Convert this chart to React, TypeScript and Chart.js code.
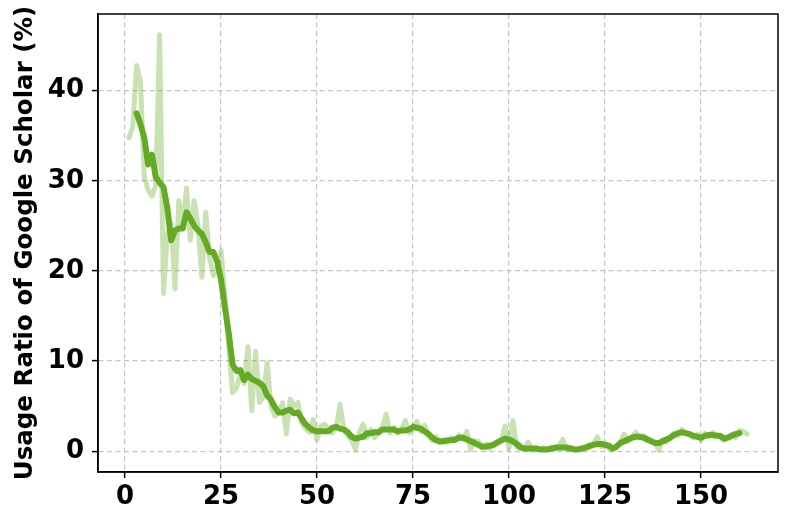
import { useEffect, useRef } from 'react'
import { Chart, registerables } from 'chart.js'

Chart.register(...registerables)

// weekly usage ratio (%), raw series starts at week 1
const RAW_START = 1
const rawRatio = [
  34.8, 36.0, 42.8, 41.0, 30.5, 29.0, 28.3, 29.5, 46.2, 17.5,
  24.0, 25.3, 18.0, 27.8, 25.0, 29.2, 23.4, 27.8, 25.0, 19.3,
  26.5, 21.5, 19.5, 20.5, 22.3, 17.0, 11.5, 6.5, 7.0, 8.5,
  7.5, 11.6, 4.5, 11.1, 5.4, 6.0, 9.8, 5.0, 3.9, 4.2,
  5.4, 1.9, 5.8, 5.0, 5.4, 3.2, 2.5, 2.1, 3.5, 1.3,
  2.8, 3.0, 2.4, 2.0, 2.6, 5.2, 2.4, 1.7, 1.2, 0.2,
  2.0, 3.0, 1.5, 2.4, 1.5, 2.0, 2.6, 4.1, 2.0, 2.6,
  2.0, 2.4, 3.4, 2.0, 2.6, 3.3, 2.2, 2.9, 1.8, 1.2,
  1.6, 0.9, 1.3, 1.0, 1.5, 1.2, 1.8, 1.3, 2.2, 0.2,
  1.2, 1.1, 0.4, 0.8, 0.3, 0.9, 0.8, 1.2, 2.8, 0.3,
  3.4, 0.5, 0.7, 0.2, 1.0, 0.1, 0.3, 0.2, 0.4, 0.1,
  0.3, 0.2, 0.6, 1.3, 0.2, 0.4, 0.1, 0.3, 0.2, 0.5,
  0.4, 0.8, 1.6, 0.5, 0.9, 0.3, 0.2, 0.6, 1.0, 1.9,
  1.1, 1.6, 2.1, 1.5, 1.7, 1.4, 1.2, 0.9, 0.1, 1.3,
  1.0, 1.6, 2.0, 1.7, 2.4, 2.0, 1.8, 1.5, 1.9, 1.2,
  2.0, 1.6, 2.1, 1.8, 1.5, 1.2, 1.6, 1.9, 1.5, 2.3,
  2.2, 1.9,
]

// smoothed curve, starts at week 3
const SMOOTH_START = 3
const smoothRatio = [
  37.5, 36.3, 34.8, 31.8, 32.9, 30.4, 29.8, 29.3,
  27.0, 23.4, 24.5, 24.7, 24.7, 26.5, 25.8, 25.0, 24.5, 24.1,
  23.2, 22.1, 22.1, 21.0, 19.0, 16.0, 13.1, 9.6, 8.9, 9.0,
  7.9, 8.5, 8.0, 7.8, 7.6, 7.2, 6.2, 5.7, 4.9, 4.3,
  4.3, 4.5, 4.6, 4.2, 4.3, 3.6, 3.0, 2.6, 2.3, 2.2,
  2.2, 2.2, 2.2, 2.6, 2.7, 2.5, 2.4, 2.1, 1.6, 1.4,
  1.5, 1.6, 2.0, 2.0, 2.1, 2.1, 2.4, 2.4, 2.4, 2.4,
  2.2, 2.3, 2.3, 2.4, 2.7, 2.6, 2.5, 2.2, 1.9, 1.5,
  1.2, 1.1, 1.1, 1.2, 1.2, 1.3, 1.5, 1.5, 1.3, 1.1,
  0.9, 0.7, 0.5, 0.5, 0.6, 0.7, 1.0, 1.2, 1.4, 1.3,
  1.1, 0.8, 0.4, 0.3, 0.3, 0.3, 0.3, 0.2, 0.2, 0.2,
  0.3, 0.4, 0.4, 0.4, 0.4, 0.3, 0.2, 0.2, 0.3, 0.4,
  0.6, 0.7, 0.8, 0.8, 0.7, 0.6, 0.3, 0.5, 0.9, 1.1,
  1.3, 1.5, 1.6, 1.6, 1.5, 1.3, 1.1, 0.9, 0.9, 1.1,
  1.3, 1.5, 1.8, 2.0, 2.1, 2.0, 1.9, 1.7, 1.6, 1.5,
  1.7, 1.8, 1.8, 1.7, 1.7, 1.4, 1.5, 1.7, 1.9, 2.0,
]

const xTicks = [0, 25, 50, 75, 100, 125, 150]
const yTicks = [0, 10, 20, 30, 40]
const yTitle = 'Usage Ratio of Google Scholar (%)'

const FONT = "'DejaVu Sans', sans-serif"
const GREEN = '#64aa24'
const GREEN_LIGHT = 'rgba(100, 170, 36, 0.35)'
const GRID = '#c4c4c4'

const framePlugin = {
  id: 'frame',
  afterDraw(chart: Chart) {
    const { ctx, chartArea } = chart
    ctx.save()
    ctx.strokeStyle = '#000'
    ctx.lineWidth = 1.5
    ctx.strokeRect(chartArea.left, chartArea.top, chartArea.right - chartArea.left, chartArea.bottom - chartArea.top)
    ctx.restore()
  },
}

export default function App() {
  const chartRef = useRef<HTMLCanvasElement>(null)

  useEffect(() => {
    if (!chartRef.current) return
    const ctx = chartRef.current.getContext('2d')
    if (!ctx) return

    const chart = new Chart(ctx, {
      type: 'line',
      data: {
        datasets: [
          {
            label: 'smoothed',
            data: smoothRatio.map((v, i) => ({ x: i + SMOOTH_START, y: v })),
            borderColor: GREEN,
            borderWidth: 6,
            borderJoinStyle: 'round',
            borderCapStyle: 'round',
            pointRadius: 0,
            tension: 0,
            order: 0,
          },
          {
            label: 'raw',
            data: rawRatio.map((v, i) => ({ x: i + RAW_START, y: v })),
            borderColor: GREEN_LIGHT,
            borderWidth: 5,
            borderJoinStyle: 'round',
            borderCapStyle: 'round',
            pointRadius: 0,
            tension: 0,
            order: 1,
          },
        ],
      },
      options: {
        animation: false,
        responsive: true,
        maintainAspectRatio: false,
        layout: { padding: { top: 14, right: 15, left: 0, bottom: 0 } },
        plugins: {
          legend: { display: false },
          tooltip: { enabled: false },
        },
        scales: {
          x: {
            type: 'linear',
            min: -7.05,
            max: 170.05,
            afterBuildTicks: (scale) => {
              scale.ticks = xTicks.map((v) => ({ value: v }))
            },
            afterFit: (scale) => {
              scale.height = 52
              scale.paddingLeft = 0
              scale.paddingRight = 0
            },
            ticks: {
              color: '#000',
              padding: 4,
              font: { family: FONT, size: 26, weight: 'bold' },
            },
            grid: {
              color: GRID,
              lineWidth: 1.2,
              tickColor: '#000',
              tickLength: 6,
              tickWidth: 1.5,
            },
            border: { color: '#000', width: 1.5, dash: [5, 3.5] },
          },
          y: {
            type: 'linear',
            min: -2.31,
            max: 48.51,
            afterBuildTicks: (scale) => {
              scale.ticks = yTicks.map((v) => ({ value: v }))
            },
            afterFit: (scale) => {
              scale.width = 98
              scale.paddingTop = 0
              scale.paddingBottom = 0
            },
            ticks: {
              color: '#000',
              padding: 8,
              font: { family: FONT, size: 26, weight: 'bold' },
            },
            grid: {
              color: GRID,
              lineWidth: 1.2,
              tickColor: '#000',
              tickLength: 6,
              tickWidth: 1.5,
            },
            border: { color: '#000', width: 1.5, dash: [5, 3.5] },
            title: {
              display: true,
              text: yTitle,
              color: '#000',
              padding: { top: 11, bottom: 0 },
              font: { family: FONT, size: 24.5, weight: 'bold' },
            },
          },
        },
      },
      plugins: [framePlugin],
    })

    return () => {
      chart.destroy()
    }
  }, [])

  return (
    <div style={{ position: 'fixed', left: 0, top: 0, width: 793, height: 524, background: '#fff' }}>
      <canvas ref={chartRef}></canvas>
    </div>
  )
}
